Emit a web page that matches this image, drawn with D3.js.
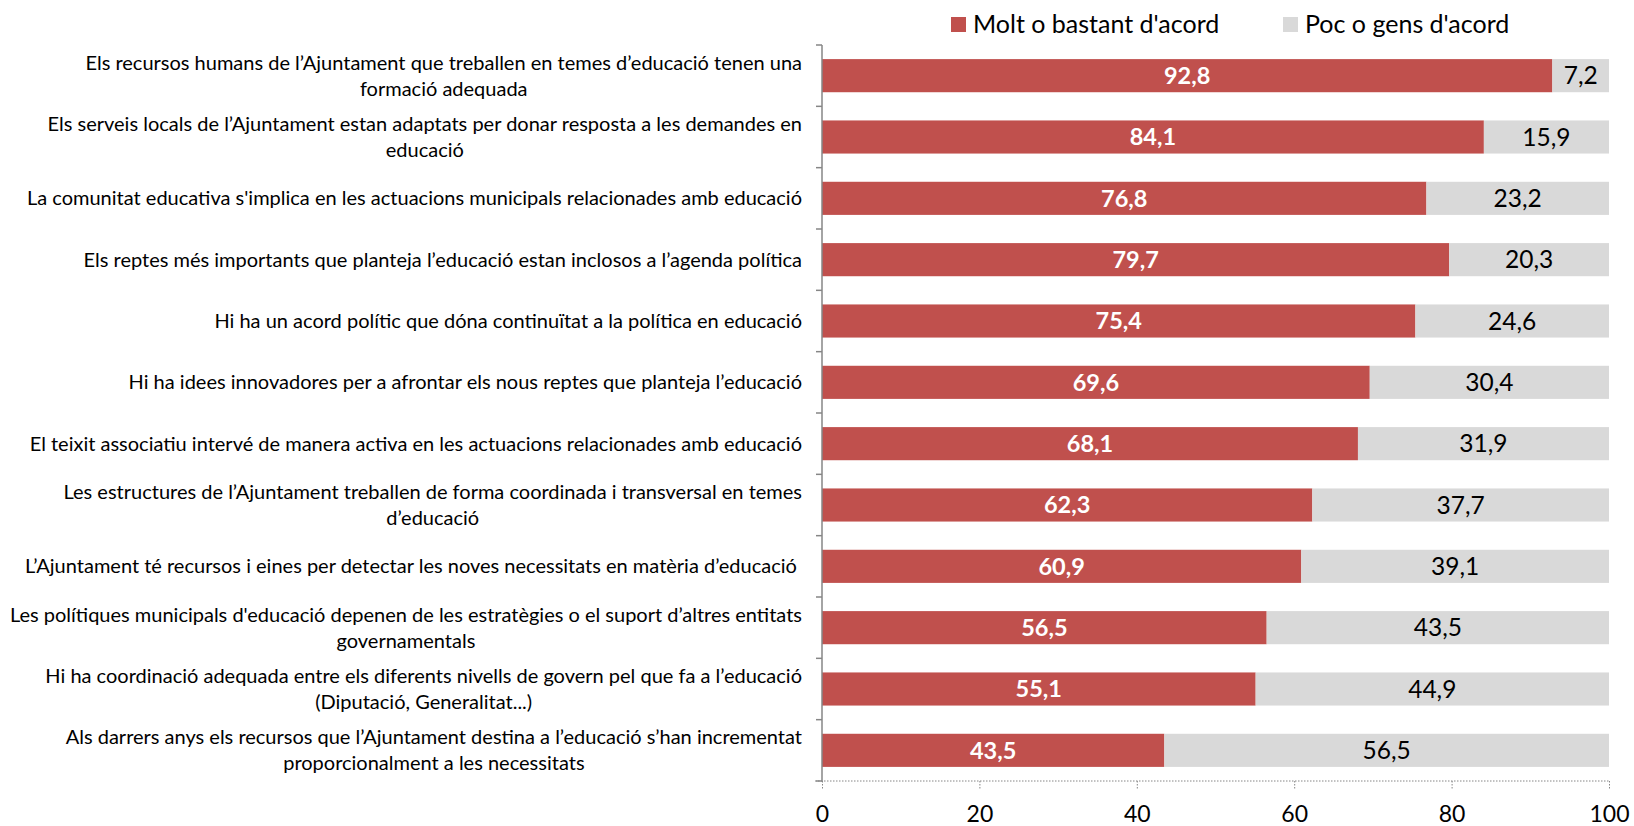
<!DOCTYPE html>
<html>
<head>
<meta charset="utf-8">
<script src="https://cdn.jsdelivr.net/npm/d3@7"></script>
<style>
  html, body { margin: 0; padding: 0; background: #fff; }
  svg { display: block; font-family: Lato, "Open Sans", sans-serif; }
</style>
</head>
<body>
<svg id="chart" width="1634" height="826"></svg>
<script>
// Survey statements (line breaks as printed on the category axis)
const categories = [
  "Els recursos humans de l’Ajuntament que treballen en temes d’educació tenen una\nformació adequada",
  "Els serveis locals de l’Ajuntament estan adaptats per donar resposta a les demandes en\neducació",
  "La comunitat educativa s'implica en les actuacions municipals relacionades amb educació",
  "Els reptes més importants que planteja l’educació estan inclosos a l’agenda política",
  "Hi ha un acord polític que dóna continuïtat a la política en educació",
  "Hi ha idees innovadores per a afrontar els nous reptes que planteja l’educació",
  "El teixit associatiu intervé de manera activa en les actuacions relacionades amb educació",
  "Les estructures de l’Ajuntament treballen de forma coordinada i transversal en temes\nd’educació",
  "L’Ajuntament té recursos i eines per detectar les noves necessitats en matèria d’educació ",
  "Les polítiques municipals d'educació depenen de les estratègies o el suport d’altres entitats\ngovernamentals",
  "Hi ha coordinació adequada entre els diferents nivells de govern pel que fa a l’educació\n(Diputació, Generalitat...)",
  "Als darrers anys els recursos que l’Ajuntament destina a l’educació s’han incrementat\nproporcionalment a les necessitats"
];

const agree    = [92.8, 84.1, 76.8, 79.7, 75.4, 69.6, 68.1, 62.3, 60.9, 56.5, 55.1, 43.5];
const disagree = [7.2, 15.9, 23.2, 20.3, 24.6, 30.4, 31.9, 37.7, 39.1, 43.5, 44.9, 56.5];

const seriesNames = ["Molt o bastant d'acord", "Poc o gens d'acord"];
const seriesColors = ["#C0504D", "#D9D9D9"];
const xTicks = [0, 20, 40, 60, 80, 100];

const svg = d3.select("#chart");
const margin = { left: 822, right: 25, top: 45, bottom: 45 };
const W = 1634, H = 826;

const x = d3.scaleLinear().domain([0, 100]).range([margin.left, W - margin.right]);
const y = d3.scaleBand().domain(d3.range(categories.length))
  .range([margin.top, H - margin.bottom]).paddingInner(0.46).paddingOuter(0.23);

const fmt = v => d3.format(".1f")(v).replace(".", ",");

const rows = categories.map((c, i) => ({ i, c, a: agree[i], d: disagree[i] }));

// Stacked bars
const stack = d3.stack().keys(["a", "d"])(rows);
stack.forEach((layer, k) => {
  svg.append("g").selectAll("rect").data(layer).join("rect")
    .attr("x", p => x(p[0]))
    .attr("width", p => x(p[1]) - x(p[0]))
    .attr("y", p => y(p.data.i))
    .attr("height", y.bandwidth())
    .attr("fill", seriesColors[k]);
});

// Value labels: bold white on the red segment, regular black on the grey one
const labels = svg.append("g");
stack.forEach((layer, k) => {
  labels.selectAll(null).data(layer).join("text")
    .attr("x", p => (x(p[0]) + x(p[1])) / 2)
    .attr("y", p => y(p.data.i) + y.bandwidth() / 2)
    .attr("dy", "0.36em")
    .attr("text-anchor", "middle")
    .attr("font-size", k === 0 ? 23.5 : 24.5)
    .attr("font-weight", k === 0 ? 700 : 400)
    .attr("fill", k === 0 ? "#fff" : "#000")
    .text(p => fmt(p[1] - p[0]));
});

// Category axis: line plus ticks between categories
const boundaries = d3.range(categories.length + 1)
  .map(i => margin.top + (H - margin.top - margin.bottom) * i / categories.length);
const axisG = svg.append("g");
axisG.append("line")
  .attr("x1", x(0)).attr("x2", x(0))
  .attr("y1", margin.top).attr("y2", H - margin.bottom)
  .attr("stroke", "#868686").attr("stroke-width", 1.5);
axisG.selectAll(".tk").data(boundaries).join("line")
  .attr("x1", x(0) - 6).attr("x2", x(0))
  .attr("y1", d => d).attr("y2", d => d)
  .attr("stroke", "#868686").attr("stroke-width", 1.5);

// Category labels: right-aligned block, lines centred within it
const catG = svg.append("g");
rows.forEach(r => {
  const lines = r.c.split("\n");
  const cy = y(r.i) + y.bandwidth() / 2;
  const lh = 26;
  const g = catG.append("g");
  const texts = lines.map((ln, j) => g.append("text")
    .attr("font-size", 20)
    .attr("fill", "#000")
    .style("white-space", "pre")
    .attr("y", cy + (j - (lines.length - 1) / 2) * lh)
    .attr("dy", "0.35em")
    .attr("text-anchor", "middle")
    .text(ln));
  const widths = texts.map(t => t.node().getComputedTextLength());
  const bw = d3.max(widths);
  const right = x(0) - 20;
  texts.forEach(t => t.attr("x", right - bw / 2));
});

// Value axis (bottom), dotted
const xAxis = d3.axisBottom(x).tickValues(xTicks).tickSize(9).tickPadding(16).tickFormat(d3.format("d"));
const xg = svg.append("g").attr("transform", `translate(0,${H - margin.bottom})`).call(xAxis);
xg.select(".domain").attr("stroke", "#868686").attr("stroke-dasharray", "1.5,1.5")
  .attr("d", `M${x(0) - 7},0H${x(100)}`);
xg.selectAll(".tick line").attr("stroke", "#868686").attr("stroke-dasharray", "1.5,1.5");
xg.selectAll(".tick text").attr("font-size", 23).attr("fill", "#000")
  .attr("font-family", "Lato, 'Open Sans', sans-serif");

// Legend
const legend = svg.append("g");
const legendX = [951, 1283];
seriesNames.forEach((name, k) => {
  legend.append("rect").attr("x", legendX[k]).attr("y", 17).attr("width", 15).attr("height", 15)
    .attr("fill", seriesColors[k]);
  legend.append("text").attr("x", legendX[k] + 22).attr("y", 24).attr("dy", "0.36em")
    .attr("font-size", 25).attr("fill", "#000").text(name);
});
</script>
</body>
</html>
